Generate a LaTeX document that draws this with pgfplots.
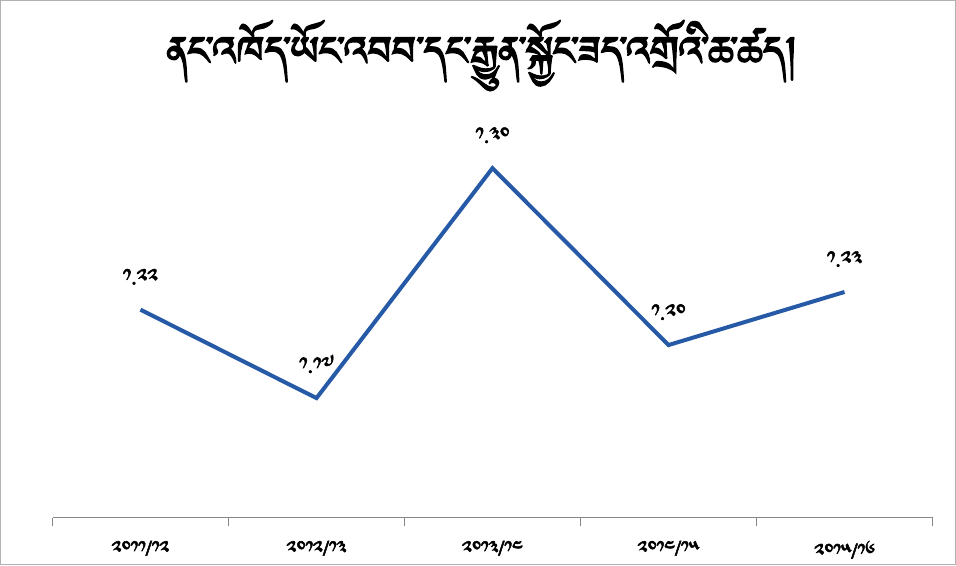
\documentclass[border=0pt]{standalone}
\usepackage{fontspec}
\usepackage{pgfplots}
\pgfplotsset{compat=1.18}
\setmainfont{DejaVu Sans}
\IfFontExistsTF{Jomolhari}{\newfontfamily\tib[Script=Tibetan,FakeBold=2.5]{Jomolhari}}{%
  \IfFontExistsTF{Tibetan Machine Uni}{\newfontfamily\tib[Script=Tibetan,FakeBold=2.5]{Tibetan Machine Uni}}{%
    \newfontfamily\tib{DejaVu Sans}}}
\definecolor{linecol}{RGB}{38,90,166}
\definecolor{axgray}{RGB}{134,134,134}
\begin{document}
\begin{tikzpicture}
\begin{axis}[
  scale only axis,
  width=660pt, height=305.25pt,
  xmin=-0.5, xmax=4.5, ymin=1.1025, ymax=1.3326,
  clip=false,
  hide y axis,
  axis x line*=bottom,
  axis line style={-, draw=axgray, line width=0.75pt},
  xtick={0,...,4},
  xticklabels={༢༠༡༡/༡༢, ༢༠༡༢/༡༣, ༢༠༡༣/༡༤, ༢༠༡༤/༡༥, ༢༠༡༥/༡༦},
  major tick length=0pt,
  minor xtick={-0.5,0.5,...,4.5},
  minor tick length=6pt,
  tick align=outside,
  minor tick style={draw=axgray, line width=0.75pt},
  xticklabel style={font=\tib\fontsize{14.5}{16}\selectfont, yshift=-14pt},
  nodes near coords,
  point meta=explicit symbolic,
  every node near coord/.append style={font=\tib\fontsize{15.5}{17}\selectfont, black, yshift=14pt},
]
\addplot[linecol, line width=3pt, no markers] coordinates {
  (0,1.22) [༡.༢༢]
  (1,1.17) [༡.༡༧]
  (2,1.30) [༡.༣༠]
  (3,1.20) [༡.༢༠]
  (4,1.23) [༡.༢༣]
};
\draw[gray!60, line width=0.75pt] ([xshift=-39pt,yshift=-35.25pt]rel axis cs:0,0) rectangle ([xshift=17.25pt,yshift=82.5pt]rel axis cs:1,1);
\node[font=\tib\fontsize{38}{44}\selectfont, anchor=center] at (rel axis cs:0.488,1.135) {ནང་འཁོད་ཡོང་འབབ་དང་རྒྱུན་སྐྱོང་ཟད་འགྲོའི་ཆ་ཚད།};
\end{axis}
\end{tikzpicture}
\end{document}
